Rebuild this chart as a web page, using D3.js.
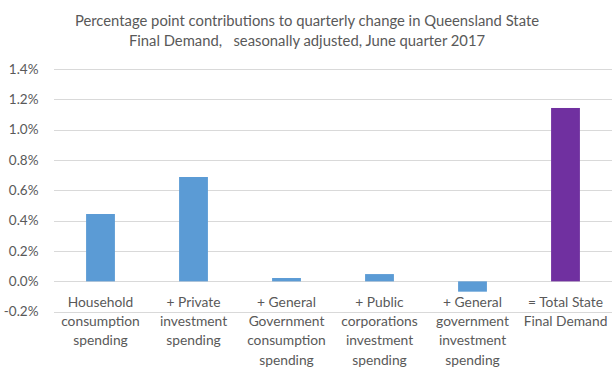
<!DOCTYPE html>
<html><head><meta charset="utf-8">
<script src="https://cdn.jsdelivr.net/npm/d3@7"></script>
<style>body{margin:0;background:#fff}svg{display:block}text{font-family:Lato,"Open Sans",sans-serif}</style>
</head><body><svg id="c" width="613" height="378"></svg>
<script>
const categories = [
  ["Household","consumption","spending"],
  ["+ Private","investment","spending"],
  ["+ General","Government","consumption","spending"],
  ["+ Public","corporations","investment","spending"],
  ["+ General","government","investment","spending"],
  ["= Total State","Final Demand"]
];
const values = [0.444, 0.688, 0.022, 0.048, -0.068, 1.143];
const colors = ["#5b9bd5","#5b9bd5","#5b9bd5","#5b9bd5","#5b9bd5","#7030a0"];
const yTicks = [-0.2, 0, 0.2, 0.4, 0.6, 0.8, 1.0, 1.2, 1.4];
const titleLines = ["Percentage point contributions to quarterly change in Queensland State","Final Demand,   seasonally adjusted, June quarter 2017"];

const svg = d3.select("#c");
const y = d3.scaleLinear().domain([-0.2, 1.4]).range([311.7, 69]);
const x = d3.scaleBand().domain(d3.range(categories.length)).range([54, 612]).paddingInner(0.69).paddingOuter(0.345);

svg.append("g").selectAll("line").data(yTicks).join("line")
  .attr("x1", 54).attr("x2", 612)
  .attr("y1", d => Math.round(y(d)) + 0.5).attr("y2", d => Math.round(y(d)) + 0.5)
  .attr("stroke", "#d9d9d9").attr("stroke-width", 1);

svg.append("g").selectAll("text").data(yTicks).join("text")
  .attr("x", 38.5).attr("y", d => y(d)).attr("dy", "0.35em")
  .attr("text-anchor", "end").attr("font-size", 13.5).attr("fill", "#595959")
  .text(d => d3.format(".1f")(d).replace("−","-") + "%");

svg.append("g").selectAll("rect").data(values).join("rect")
  .attr("x", (d, i) => x(i)).attr("width", x.bandwidth())
  .attr("y", d => y(Math.max(0, d))).attr("height", d => Math.abs(y(d) - y(0)))
  .attr("fill", (d, i) => colors[i]);

const lab = svg.append("g").selectAll("text").data(categories).join("text")
  .attr("text-anchor", "middle").attr("font-size", 13.8).attr("fill", "#595959")
  .attr("x", (d, i) => x(i) + x.bandwidth() / 2);
lab.selectAll("tspan").data(d => d).join("tspan")
  .attr("x", function(){ return this.parentNode.getAttribute("x"); })
  .attr("y", (d, j) => 306.5 + j * 19.4).text(d => d);

svg.append("g").selectAll("text").data(titleLines).join("text")
  .attr("x", 307).attr("y", (d, i) => 26 + i * 20)
  .attr("text-anchor", "middle").attr("font-size", 14.8).attr("fill", "#595959")
  .attr("xml:space", "preserve").style("white-space", "pre")
  .text(d => d);
</script></body></html>
